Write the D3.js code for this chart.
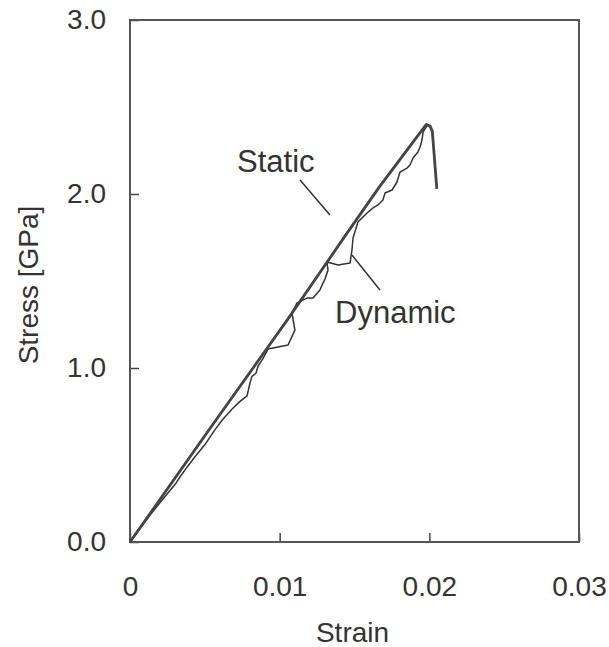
<!DOCTYPE html>
<html>
<head>
<meta charset="utf-8">
<script src="https://cdn.jsdelivr.net/npm/d3@7"></script>
<style>
  body { margin: 0; background: #fff; }
  text { font-family: 'Liberation Sans', Arial, sans-serif; fill: #333; }
</style>
</head>
<body>
<div id="chart"></div>
<script>
// strain / stress
var staticStrain = [0, 0.0052, 0.0105, 0.0145, 0.0167, 0.0198, 0.02005, 0.0202, 0.0203, 0.0204, 0.0205]
var staticStress = [0, 0.635, 1.275, 1.775, 2.045, 2.40, 2.39, 2.36, 2.25, 2.14, 2.03]

var dynamicStrain = [0, 0.00134, 0.00234, 0.00307, 0.00341, 0.00381, 0.00434, 0.00501, 0.00561, 0.00615,
  0.00682, 0.00735, 0.00782, 0.00802, 0.00815, 0.00842, 0.00855, 0.00889, 0.00922, 0.00989,
  0.01056, 0.01102, 0.01082, 0.01116, 0.01183, 0.01223, 0.01269, 0.0129, 0.01303, 0.01323,
  0.01316, 0.0139, 0.0147, 0.01483, 0.0149, 0.01523, 0.01584, 0.01624, 0.01657, 0.0169,
  0.01704, 0.01751, 0.01784, 0.01804, 0.01851, 0.01871, 0.01891, 0.01924, 0.01938, 0.01951,
  0.01958, 0.01984]
var dynamicStress = [0, 0.155, 0.262, 0.338, 0.382, 0.43, 0.49, 0.56, 0.637, 0.7,
  0.764, 0.808, 0.84, 0.915, 0.952, 0.97, 1.01, 1.055, 1.109, 1.121,
  1.132, 1.218, 1.316, 1.374, 1.402, 1.402, 1.448, 1.489, 1.511, 1.563,
  1.609, 1.592, 1.603, 1.678, 1.747, 1.839, 1.891, 1.92, 1.937, 1.966,
  2.006, 2.023, 2.069, 2.126, 2.149, 2.167, 2.207, 2.241, 2.27, 2.31,
  2.356, 2.391]

var xTicks = [0, 0.01, 0.02, 0.03]
var yTicks = [0, 1, 2, 3]

var margin = { left: 130, top: 20, right: 30, bottom: 105 }
var width = 609
var height = 647

var x = d3.scaleLinear().domain([0, 0.03]).range([margin.left, width - margin.right])
var y = d3.scaleLinear().domain([0, 3]).range([height - margin.bottom, margin.top])

var svg = d3.select('#chart').append('svg')
  .attr('width', width)
  .attr('height', height)

// x axis, ticks pointing inwards
svg.append('g')
  .attr('transform', 'translate(0,' + y(0) + ')')
  .call(d3.axisBottom(x).tickValues(xTicks)
    .tickFormat(function (d) { return d === 0 ? '0' : d3.format('.2f')(d) })
    .tickSizeInner(-9).tickSizeOuter(0).tickPadding(34))

svg.append('g')
  .attr('transform', 'translate(' + x(0) + ',0)')
  .call(d3.axisLeft(y).tickValues(yTicks)
    .tickFormat(d3.format('.1f'))
    .tickSizeInner(-9).tickSizeOuter(0).tickPadding(24))

svg.selectAll('.domain').remove()
svg.selectAll('.tick line').attr('stroke', '#444').attr('stroke-width', 1.5)
svg.selectAll('.tick text').attr('font-size', 28).attr('fill', '#333')
  .attr('font-family', "'Liberation Sans', Arial, sans-serif")

// frame
svg.append('rect')
  .attr('x', x(0))
  .attr('y', y(3))
  .attr('width', x(0.03) - x(0))
  .attr('height', y(0) - y(3))
  .attr('fill', 'none')
  .attr('stroke', '#555')
  .attr('stroke-width', 2)

var line = d3.line()
  .x(function (d) { return x(d[0]) })
  .y(function (d) { return y(d[1]) })

svg.append('path')
  .datum(dynamicStrain.map(function (e, i) { return [e, dynamicStress[i]] }))
  .attr('d', line)
  .attr('fill', 'none')
  .attr('stroke', '#333')
  .attr('stroke-width', 1.5)
  .attr('stroke-linejoin', 'round')

svg.append('path')
  .datum(staticStrain.map(function (e, i) { return [e, staticStress[i]] }))
  .attr('d', line)
  .attr('fill', 'none')
  .attr('stroke', '#444')
  .attr('stroke-width', 2.8)
  .attr('stroke-linejoin', 'round')

// labels with leader lines
svg.append('text')
  .attr('x', x(0.00715))
  .attr('y', y(2.126))
  .attr('font-size', 31)
  .text('Static')
svg.append('line')
  .attr('x1', x(0.01136)).attr('y1', y(2.08))
  .attr('x2', x(0.01336)).attr('y2', y(1.879))
  .attr('stroke', '#333').attr('stroke-width', 1.5)

svg.append('text')
  .attr('x', x(0.0137))
  .attr('y', y(1.259))
  .attr('font-size', 31)
  .text('Dynamic')
svg.append('line')
  .attr('x1', x(0.01483)).attr('y1', y(1.649))
  .attr('x2', x(0.0167)).attr('y2', y(1.448))
  .attr('stroke', '#333').attr('stroke-width', 1.5)

// axis titles
svg.append('text')
  .attr('x', (x(0) + x(0.03)) / 2 - 2)
  .attr('y', 642)
  .attr('text-anchor', 'middle')
  .attr('font-size', 28)
  .text('Strain')

svg.append('text')
  .attr('transform', 'translate(38,' + ((y(0) + y(3)) / 2 + 4) + ') rotate(-90)')
  .attr('text-anchor', 'middle')
  .attr('font-size', 28)
  .text('Stress [GPa]')
</script>
</body>
</html>
